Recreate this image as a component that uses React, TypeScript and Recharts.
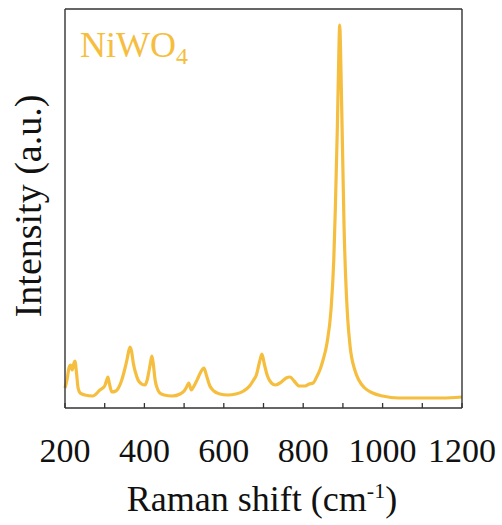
import { LineChart, Line, XAxis, YAxis, Label } from 'recharts';

// Raman shift (cm-1) and intensity (a.u.)
const ramanShift = [
    200, 205, 210, 214, 218, 222, 225, 229, 233, 238, 250, 270, 288, 300, 305, 308, 312, 318,
    328, 343, 350, 356, 360, 364, 368, 372, 378, 384, 393, 401, 407, 412, 416, 419, 423, 427,
    433, 439, 450, 470, 490, 500, 505, 512, 518, 525, 535, 542, 550, 556, 565, 575, 590, 610,
    630, 650, 665, 675, 682, 690, 696, 702, 710, 720, 730, 745, 757, 767, 777, 790, 805, 815,
    825, 835, 842, 850, 860, 870, 877, 881, 886, 889, 892, 894, 897, 900, 903, 907, 912, 918,
    930, 940, 955, 975, 1000, 1040, 1100, 1150, 1200
];
const intensity = [
    20, 28, 40, 43, 38, 44, 47, 35, 20, 15, 13, 12, 18, 22, 28, 31, 24, 16,
    17, 28, 38, 48, 56, 61, 56, 45, 35, 28, 24, 23, 28, 38, 47, 52, 42, 28,
    19, 15, 13, 12, 14, 17, 20, 25, 18, 22, 30, 36, 40, 33, 22, 17, 14, 13,
    14, 17, 22, 28, 33, 46, 54, 44, 32, 25, 23, 26, 30, 31, 27, 22, 22, 24,
    25, 32, 38, 48, 65, 98, 148, 200, 280, 340, 383, 360, 300, 240, 180, 130, 90, 62,
    38, 28, 20, 15, 12, 10, 10, 10, 11
];
const xTicks = [200, 300, 400, 500, 600, 700, 800, 900, 1000, 1100, 1200];
const rightTicks = [246, 276];

const data = ramanShift.map((x, i) => ({ x, y: intensity[i] }));

const FONT = '"Liberation Serif", "Times New Roman", serif';
const AXIS = '#333333';
const LINE = '#F6BE3E';

const BottomTick = ({ x, y, payload }: any) => (
    <g>
        <line x1={x} x2={x} y1={y} y2={y - 5} stroke={AXIS} strokeWidth={1.3} />
        {payload.value % 200 === 0 && (
            <text x={x} y={y + 54} textAnchor="middle" fontSize={34} fontFamily={FONT} fill="#111">
                {payload.value}
            </text>
        )}
    </g>
);

const RightTick = ({ x, y }: any) => (
    <line x1={x} x2={x - 3} y1={y} y2={y} stroke={AXIS} strokeWidth={1.3} />
);

export default function App() {
    return (
        <div style={{ position: 'absolute', left: 0, top: 0, background: '#fff' }}>
            <LineChart
                width={502}
                height={525}
                data={data}
                margin={{ top: 7, right: 38, left: 63, bottom: 77 }}
            >
                <XAxis
                    dataKey="x"
                    type="number"
                    domain={[200, 1200]}
                    ticks={xTicks}
                    height={40}
                    tickSize={0}
                    tickMargin={0}
                    tick={<BottomTick />}
                    axisLine={{ stroke: AXIS, strokeWidth: 1.4 }}
                    interval={0}
                >
                    <Label
                        content={() => (
                            <text x={262} y={511} textAnchor="middle" fontSize={36} fontFamily={FONT} fill="#111">
                                Raman shift (cm<tspan fontSize={22} dy={-13}>-1</tspan><tspan dy={13}>)</tspan>
                            </text>
                        )}
                    />
                </XAxis>
                <XAxis
                    xAxisId="top"
                    dataKey="x"
                    type="number"
                    domain={[200, 1200]}
                    orientation="top"
                    height={2}
                    tick={false}
                    tickLine={false}
                    axisLine={{ stroke: AXIS, strokeWidth: 1.4 }}
                >
                    <Label
                        content={() => (
                            <text x={80} y={57} fontSize={36} fontFamily={FONT} fill={LINE}>
                                NiWO<tspan fontSize={24} dy={7}>4</tspan>
                            </text>
                        )}
                    />
                </XAxis>
                <YAxis
                    type="number"
                    domain={[0, 399]}
                    width={2}
                    tick={false}
                    tickLine={false}
                    axisLine={{ stroke: AXIS, strokeWidth: 1.4 }}
                >
                    <Label
                        content={() => (
                            <text
                                x={41}
                                y={206}
                                transform="rotate(-90 41 206)"
                                textAnchor="middle"
                                fontSize={38}
                                fontFamily={FONT}
                                fill="#111"
                            >
                                Intensity (a.u.)
                            </text>
                        )}
                    />
                </YAxis>
                <YAxis
                    yAxisId="right"
                    orientation="right"
                    type="number"
                    domain={[0, 399]}
                    width={2}
                    ticks={rightTicks}
                    tickSize={0}
                    tickMargin={0}
                    tick={<RightTick />}
                    axisLine={{ stroke: AXIS, strokeWidth: 1.4 }}
                />
                <Line
                    type="monotone"
                    dataKey="y"
                    stroke={LINE}
                    strokeWidth={3.2}
                    dot={false}
                    isAnimationActive={false}
                />
            </LineChart>
        </div>
    );
}
